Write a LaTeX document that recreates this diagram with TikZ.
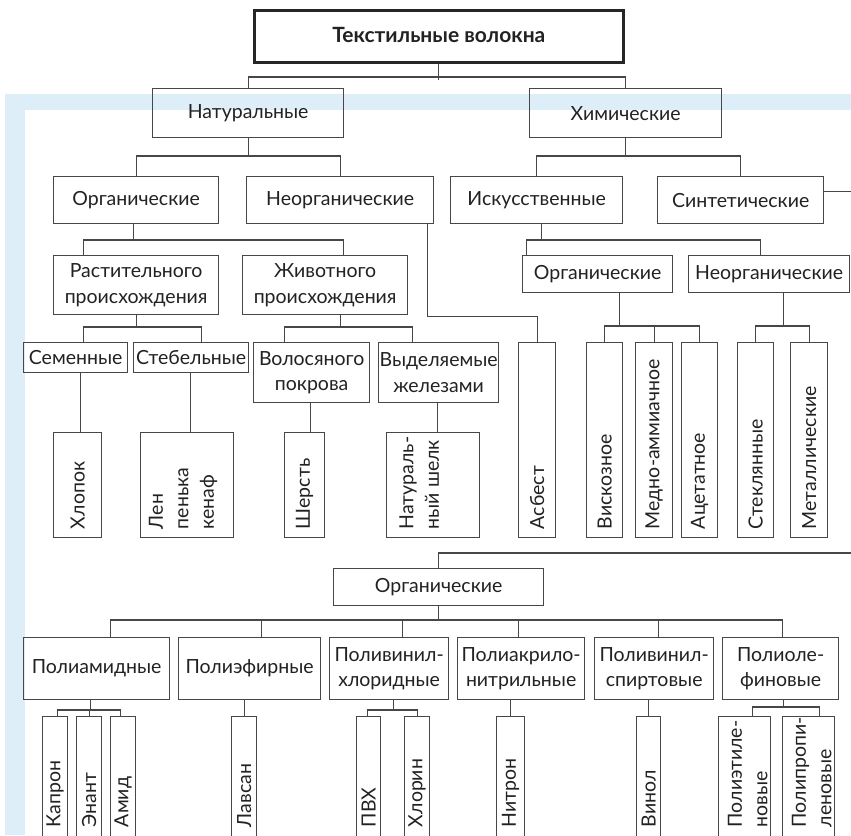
\documentclass[tikz,border=0pt]{standalone}
\usepackage{fontspec}
\setmainfont{Lato}
\usetikzlibrary{calc}
\definecolor{lc}{HTML}{474747}
\definecolor{tc}{HTML}{222222}
\definecolor{band}{HTML}{DDEEF8}
\newcommand\fsz{\fontsize{19.5}{25.5}\selectfont}
\newcommand\fszt{\fontsize{21}{25.5}\selectfont}
\tikzset{
  ln/.style={draw=lc, line width=1.3pt},
  box/.style={draw=lc, line width=1.3pt, inner sep=0pt, align=center, font=\fsz, text=tc},
  vtext/.style={rotate=90, anchor=west, align=left, inner sep=0pt, font=\fsz, text=tc},
}
\newcommand\hb[6]{\node[box, anchor=north west, minimum width={(#4-#2)*1pt}, minimum height={(#5-#3)*1pt}] (#1) at (#2,#3) {#6};}
\newcommand\vb[8]{\node[box, anchor=north west, minimum width={(#4-#2)*1pt}, minimum height={(#5-#3)*1pt}] (#1) at (#2,#3) {};
  \node[vtext] (#1t) at ($(#1.south)+(#6,-#7)$) {#8};}
\begin{document}
\begin{tikzpicture}[x=1pt,y=-1pt]
\useasboundingbox (0,0) rectangle (851,835);
\fill[band] (5,94) rectangle (851,835);
\fill[white] (25,110) rectangle (851,835);

\node[box, line width=2.6pt, draw=black!85, font=\fszt\bfseries, anchor=north west, minimum width=369pt, minimum height=52pt, text depth=0pt] (top) at (253,9) {\raisebox{2pt}{Текстильные волокна}};

\hb{nat}{152}{88}{343}{137}{Натуральные}
\hb{chem}{529}{88}{721}{137}{Химические}
\hb{org1}{53}{176}{218}{223}{Органические}
\hb{neorg1}{246}{176}{433}{223}{Неорганические}
\hb{isk}{450}{176}{622}{223}{Искусственные}
\hb{sin}{657}{176}{823}{223}{Синтетические}
\hb{rast}{53}{255}{218}{314}{Растительного\\происхождения}
\hb{zhiv}{242}{255}{407}{314}{Животного\\происхождения}
\hb{orgC}{522}{255}{672}{292}{Органические}
\hb{neorgC}{688}{255}{849}{292}{Неорганические}
\hb{sem}{23}{342}{127}{372}{Семенные}
\hb{steb}{133}{342}{248}{372}{Стебельные}
\hb{vol}{253}{342}{369}{402}{Волосяного\\покрова}
\hb{vyd}{378}{342}{498}{402}{Выделяемые\\железами}
\vb{hlop}{53}{432}{101}{537}{0}{9}{Хлопок}
\vb{len}{140}{432}{233}{537}{-4}{9}{Лен\\пенька\\кенаф}
\vb{sher}{284}{432}{324}{537}{0}{9}{Шерсть}
\vb{shelk}{386}{432}{479}{537}{-14}{9}{Натураль-\\ный шелк}
\vb{asb}{518}{342}{555}{537}{0}{9}{Асбест}
\vb{visk}{586}{342}{622}{537}{0}{9}{Вискозное}
\vb{medn}{635}{342}{672}{537}{0}{9}{Медно-аммиачное}
\vb{acet}{681}{342}{717}{537}{0}{9}{Ацетатное}
\vb{stek}{737}{342}{773}{537}{0}{9}{Стеклянные}
\vb{metal}{790}{342}{827}{537}{0}{9}{Металлические}

\hb{orgS}{333}{568}{543}{605}{Органические}
\hb{pam}{23}{637}{169}{699}{Полиамидные}
\hb{pef}{178}{637}{320}{699}{Полиэфирные}
\hb{pvh}{329}{637}{448}{699}{Поливинил-\\хлоридные}
\hb{pak}{457}{637}{584}{699}{Полиакрило-\\нитрильные}
\hb{pvs}{594}{637}{713}{699}{Поливинил-\\спиртовые}
\hb{pol}{722}{637}{838}{699}{Полиоле-\\финовые}
\vb{kap}{42}{716}{67}{840}{0}{14}{Капрон}
\vb{enant}{76}{716}{101}{840}{0}{14}{Энант}
\vb{amid}{110}{716}{135}{840}{0}{14}{Амид}
\vb{lavs}{231}{716}{256}{840}{0}{14}{Лавсан}
\vb{pvx}{356}{716}{380}{840}{0}{14}{ПВХ}
\vb{hlor}{404}{716}{429}{840}{0}{14}{Хлорин}
\vb{nitr}{496}{716}{524}{840}{0}{14}{Нитрон}
\vb{vinol}{636}{716}{660}{840}{0}{14}{Винол}
\vb{pet}{718}{716}{770}{840}{3}{14}{Полиэтиле-\\новые}
\vb{ppr}{782}{716}{834}{840}{3}{14}{Полипропи-\\леновые}

% connectors
\draw[ln] (top.south) -- ++(0,16);
\draw[ln] (nat.north) -- ++(0,-11) -| (chem.north);
\draw[ln] (nat.south) -- ++(0,19);
\draw[ln] (org1.north) -- ++(0,-20) -| (neorg1.north);
\draw[ln] (chem.south) -- ++(0,19);
\draw[ln] (isk.north) -- ++(0,-20) -| (sin.north);
\draw[ln] ([yshift=8.5pt]sin.east) -- ++(32,0);
\draw[ln] ([xshift=-2.5pt]org1.south) -- ++(0,17);
\draw[ln] ([xshift=-52.5pt]rast.north) -- ++(0,-15) -| ([xshift=18.5pt]zhiv.north);
\draw[ln] ([xshift=87.5pt]neorg1.south) -- ++(0,92) -| (asb.north);
\draw[ln] ([xshift=5pt]isk.south) -- ++(0,17);
\draw[ln] ([xshift=-71pt]orgC.north) -- ++(0,-15) -| ([xshift=-8.5pt]neorgC.north);
\draw[ln] (rast.south) -- ++(0,13);
\draw[ln] ([xshift=8pt]sem.north) -- ++(0,-15) -| ([xshift=10.5pt]steb.north);
\draw[ln] ([xshift=15.5pt]zhiv.south) -- ++(0,13);
\draw[ln] ([xshift=-27pt]vol.north) -- ++(0,-15) -| ([xshift=-26pt]vyd.north);
\draw[ln] ([xshift=22pt]orgC.south) -- ++(0,34);
\draw[ln] (visk.north) -- ++(0,-16) -| (acet.north);
\draw[ln] (medn.north) -- ++(0,-16);
\draw[ln] ([xshift=14.5pt]neorgC.south) -- ++(0,34);
\draw[ln] (stek.north) -- ++(0,-16) -| (metal.north);
\draw[ln] ([xshift=3pt]hlop.north) -- ++(0,-60);
\draw[ln] ([xshift=3.5pt]len.north) -- ++(0,-60);
\draw[ln] ([xshift=6pt]sher.north) -- ++(0,-30);
\draw[ln] ([xshift=4.5pt]shelk.north) -- ++(0,-30);

\draw[ln] (orgS.north) -- ++(0,-15) -- ++(420,0);
\draw[ln] (orgS.south) -- ++(0,15);
\draw[ln] ([xshift=14pt]pam.north) -- ++(0,-17) -| ([xshift=2pt]pol.north);
\draw[ln] ([xshift=12pt]pef.north) -- ++(0,-17);
\draw[ln] ([xshift=13.5pt]pvh.north) -- ++(0,-17);
\draw[ln] ([xshift=-2.5pt]pak.north) -- ++(0,-17);
\draw[ln] ([xshift=4.5pt]pvs.north) -- ++(0,-17);
\draw[ln] ([xshift=-6pt]pam.south) -- ++(0,11);
\draw[ln] ([xshift=2.5pt]kap.north) -- ++(0,-6) -| ([xshift=-2.5pt]amid.north);
\draw[ln] (enant.north) -- ++(0,-6);
\draw[ln] (lavs.north) -- ++(0,-17);
\draw[ln] ([xshift=4.5pt]pvh.south) -- ++(0,11);
\draw[ln] ([xshift=-1pt]pvx.north) -- ++(0,-6) -| (hlor.north);
\draw[ln] (nitr.north) -- ++(0,-17);
\draw[ln] (vinol.north) -- ++(0,-17);
\draw[ln] ([xshift=3pt]pol.south) -- ++(0,8);
\draw[ln] ([xshift=8pt]pet.north) -- ++(0,-9) -| ([xshift=11pt]ppr.north);
\end{tikzpicture}
\end{document}
